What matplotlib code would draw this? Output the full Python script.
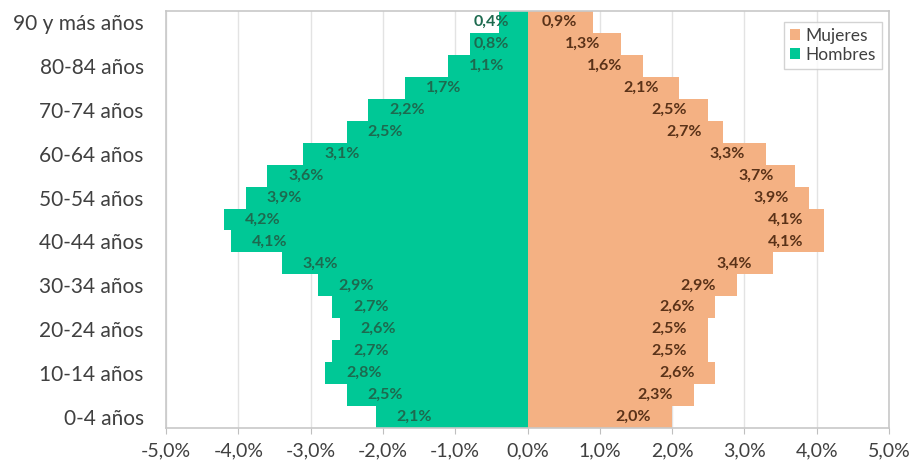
import matplotlib.pyplot as plt
import numpy as np

# age groups, bottom to top
grupos = ['0-4 años', '5-9 años', '10-14 años', '15-19 años', '20-24 años', '25-29 años',
          '30-34 años', '35-39 años', '40-44 años', '45-49 años', '50-54 años', '55-59 años',
          '60-64 años', '65-69 años', '70-74 años', '75-79 años', '80-84 años', '85-89 años',
          '90 y más años']
hombres = [2.1, 2.5, 2.8, 2.7, 2.6, 2.7, 2.9, 3.4, 4.1, 4.2, 3.9, 3.6, 3.1, 2.5, 2.2, 1.7, 1.1, 0.8, 0.4]
mujeres = [2.0, 2.3, 2.6, 2.5, 2.5, 2.6, 2.9, 3.4, 4.1, 4.1, 3.9, 3.7, 3.3, 2.7, 2.5, 2.1, 1.6, 1.3, 0.9]
xticks = [-5, -4, -3, -2, -1, 0, 1, 2, 3, 4, 5]

plt.rcParams['font.family'] = ['Lato', 'DejaVu Sans']

verde = '#00c896'
naranja = '#f4b183'

fig = plt.figure(figsize=(9.18, 4.69), dpi=100)
ax = fig.add_axes([166/918, 1-428/469, (889-166)/918, (428-11)/469])

y = np.arange(len(grupos))
h = -np.array(hombres)
m = np.array(mujeres)
ax.barh(y, m, height=1.0, color=naranja, label='Mujeres', zorder=2)
ax.barh(y, h, height=1.0, color=verde, label='Hombres', zorder=2)

def fmt(v):
    return f'{abs(v):.1f}%'.replace('.', ',')

# labels sit inside the bar end; short bars push them away from zero
pad, w = 0.2, 0.58
for yi, v in zip(y, h):
    ax.text(min(v + pad + w, -0.25), yi, fmt(v), ha='right', va='center', fontsize=11.5,
            fontweight='bold', color='#1d6a4f', zorder=3)
for yi, v in zip(y, m):
    ax.text(max(v - pad - w, 0.2), yi, fmt(v), ha='left', va='center', fontsize=11.5,
            fontweight='bold', color='#5a3218', zorder=3)

ax.set_xlim(-5, 5)
ax.set_ylim(-0.5, len(grupos) - 0.5)
ax.set_xticks(xticks)
ax.set_xticklabels([f'{t:.1f}%'.replace('.', ',') for t in xticks], fontsize=14, color='#404040')
ax.set_yticks(y[::2])
ax.set_yticklabels(grupos[::2], fontsize=15, color='#404040')
ax.tick_params(axis='y', length=0, pad=16)
ax.tick_params(axis='x', length=4, color='#bfbfbf', pad=6)
ax.grid(axis='x', color='#e3e3e3', linewidth=1, zorder=0)
for s in ax.spines.values():
    s.set_color('#c8c8c8')
    s.set_linewidth(1.2)

leg = ax.legend(loc='upper right', bbox_to_anchor=(0.99, 0.974), borderaxespad=0, fontsize=12.5,
                handlelength=0.6, handleheight=0.6, handletextpad=0.3,
                borderpad=0.35, labelspacing=0.15, fancybox=False, frameon=True)
leg.get_frame().set_edgecolor('#c8c8c8')
for t in leg.get_texts():
    t.set_color('#404040')

fig.savefig('out.png', dpi=100)
